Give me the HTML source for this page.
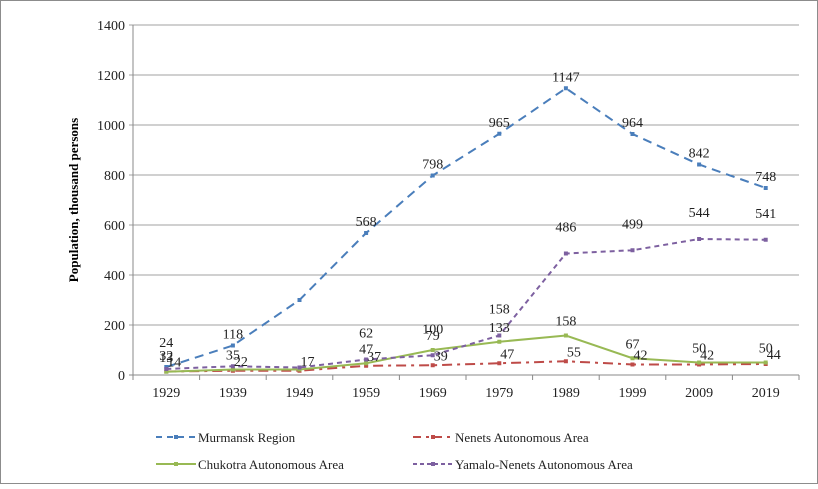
<!DOCTYPE html>
<html><head><meta charset="utf-8"><style>
html,body{margin:0;padding:0;background:#fff}
svg text{font-family:"Liberation Serif",serif}
</style></head><body>
<svg width="818" height="484" viewBox="0 0 818 484" xmlns="http://www.w3.org/2000/svg">
<rect x="0.5" y="0.5" width="817" height="483" fill="#fff" stroke="#8c8c8c"/>
<g id="grid"></g>
<g id="axes"></g>
<g id="series"></g>
<g id="labels"></g>
<text transform="translate(78,200) rotate(-90)" text-anchor="middle" font-size="13" font-weight="bold">Population, thousand persons</text>
<g id="legend"></g>
</svg>
<script>
const years = ["1929","1939","1949","1959","1969","1979","1989","1999","2009","2019"];
const murmansk = [32,118,300,568,798,965,1147,964,842,748];
const nenets = [14,17,17,37,39,47,55,42,42,44];
const chukotka = [13,22,22,47,100,133,158,67,50,50];
const yamalo = [24,35,30,62,79,158,486,499,544,541];
const yTicks = [0,200,400,600,800,1000,1200,1400];
const murmanskLabels = ["32","118","","568","798","965","1147","964","842","748"];
const nenetsLabels = ["14","22","17","37","39","47","55","42","42","44"];
const chukotkaLabels = ["13","35","","47","79","133","158","67","50","50"];
const yamaloLabels = ["24","","","62","100","158","486","499","544","541"];

const NS="http://www.w3.org/2000/svg";
const X0=133, X1=799, Y0=375, Y1=25, YMAX=1400;
const xs=i=>X0+(X1-X0)/years.length*(i+0.5);
const ys=v=>Y0-(Y0-Y1)*v/YMAX;
function mk(tag,attrs,parent){const e=document.createElementNS(NS,tag);for(const k in attrs)e.setAttribute(k,attrs[k]);document.getElementById(parent).appendChild(e);return e;}

yTicks.forEach(t=>{
  const g=mk('line',{x1:X0-4,x2:X1,y1:ys(t),y2:ys(t),stroke:t===0?'#888':'#a0a0a0','stroke-width':1},'grid');
  
  
  const tx=mk('text',{x:X0-8,y:ys(t)+5,'text-anchor':'end','font-size':14,fill:'#222'},'axes');
  tx.textContent=t;
  
  
});
const ax=mk('line',{x1:X0,x2:X0,y1:Y1,y2:Y0,stroke:'#888'},'axes');


for(let i=0;i<=years.length;i++){
  const x=X0+(X1-X0)/years.length*i;
  const tk=mk('line',{x1:x,x2:x,y1:Y0,y2:Y0+5,stroke:'#888'},'axes');
  
  
}
years.forEach((y,i)=>{
  const t=mk('text',{x:xs(i),y:Y0+22,'text-anchor':'middle','font-size':14,fill:'#222'},'axes');
  t.textContent=y;
  
  
});

const series=[
 {name:'murmansk',data:murmansk,labels:murmanskLabels,color:'#4a7ebb',dash:'9,6',w:2,dy:-7,dx:0},
 {name:'nenets',data:nenets,labels:nenetsLabels,color:'#be4b48',dash:'10,5,3,5',w:2,dy:-5,dx:8},
 {name:'chukotka',data:chukotka,labels:chukotkaLabels,color:'#98b954',dash:'',w:2,dy:-10,dx:0},
 {name:'yamalo',data:yamalo,labels:yamaloLabels,color:'#7d60a0',dash:'5,4',w:2,dy:-22,dx:0}
];
series.forEach(s=>{
  const p=mk('polyline',{points:s.data.map((v,i)=>xs(i)+','+ys(v)).join(' '),fill:'none',stroke:s.color,'stroke-width':s.w,'stroke-dasharray':s.dash},'series');
  
  
  s.data.forEach((v,i)=>{
    const m=mk('rect',{x:xs(i)-2,y:ys(v)-2,width:4,height:4,fill:s.color},'series');
    
    
    if(s.labels[i]){
      const t=mk('text',{x:xs(i)+s.dx,y:ys(v)+s.dy,'text-anchor':'middle','font-size':14,fill:'#222'},'labels');
      t.textContent=s.labels[i];
      
      
    }
  });
});

const leg=[
 {label:'Murmansk Region',color:'#4a7ebb',dash:'6,5',x:156,y:437},
 {label:'Nenets Autonomous Area',color:'#be4b48',dash:'8,5,3,5',x:413,y:437},
 {label:'Chukotra Autonomous Area',color:'#98b954',dash:'',x:156,y:464},
 {label:'Yamalo-Nenets Autonomous Area',color:'#7d60a0',dash:'4,3',x:413,y:464}
];
leg.forEach(l=>{
  const ln=mk('line',{x1:l.x,x2:l.x+40,y1:l.y,y2:l.y,stroke:l.color,'stroke-width':2,'stroke-dasharray':l.dash},'legend');
  
  
  const m=mk('rect',{x:l.x+18,y:l.y-2,width:4,height:4,fill:l.color},'legend');
  
  
  const t=mk('text',{x:l.x+42,y:l.y+5,'font-size':13,fill:'#222'},'legend');
  t.textContent=l.label;
  
  
});
</script>
</body></html>
